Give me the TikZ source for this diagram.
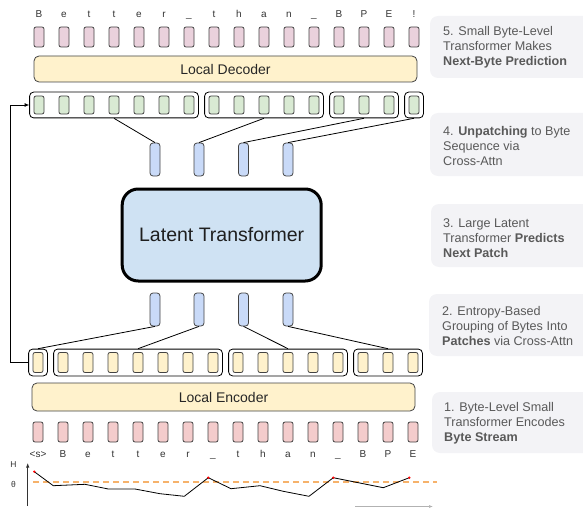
\documentclass[tikz,border=0pt]{standalone}
\usepackage{fontspec}
\setmainfont{Liberation Sans}
\usetikzlibrary{fit,arrows.meta}
\definecolor{pinkT}{HTML}{EAD1DC}
\definecolor{pinkB}{HTML}{F4CCCC}
\definecolor{greenB}{HTML}{D9EAD3}
\definecolor{yellowB}{HTML}{FFF2CC}
\definecolor{blueS}{HTML}{C9DAF8}
\definecolor{blueL}{HTML}{CFE2F3}
\definecolor{edgeG}{HTML}{434343}
\definecolor{lblbg}{HTML}{F3F3F6}
\definecolor{lbltxt}{HTML}{595959}
\definecolor{orangeD}{HTML}{F6B26B}
\begin{document}
\begin{tikzpicture}[x=1pt,y=-1pt,
  bytebox/.style={rectangle, rounded corners=2pt, draw=edgeG, line width=0.8pt,
    minimum width=10pt, minimum height=19pt, inner sep=0pt},
  grp/.style={rectangle, rounded corners=4pt, draw=black, line width=0.8pt,
    inner xsep=4pt, inner ysep=3.5pt},
  lat/.style={rectangle, rounded corners=3pt, draw=edgeG, line width=0.8pt,
    minimum width=10pt, minimum height=33pt, inner sep=0pt, fill=blueS},
  wide/.style={rectangle, rounded corners=5pt, draw=edgeG, line width=0.8pt,
    fill=yellowB, minimum width=383pt, inner sep=0pt,
    font=\fontsize{14}{16}\selectfont, text=black!85},
  letter/.style={anchor=base, inner sep=0pt, font=\fontsize{10}{12}\selectfont, text=black!80},
  lbl/.style={anchor=west, inner sep=0pt, align=left,
    font=\fontsize{12.6}{15}\selectfont, text=lbltxt},
  lblbox/.style={fill=lblbg, rounded corners=8pt},
  conn/.style={draw=black, line width=0.8pt}
]
\useasboundingbox (0,0) rectangle (583,508);

% right-side label boxes
\begin{scope}
\clip (0,0) rectangle (583,508);
\path[lblbox] (430,16) rectangle (600,78);
\path[lblbox] (430,113) rectangle (600,176);
\path[lblbox] (431,204) rectangle (600,267);
\path[lblbox] (429,294) rectangle (600,356);
\path[lblbox] (432,392) rectangle (600,453);
\end{scope}
\node[lbl] (l5) at (443,47) {5. Small Byte-Level\\Transformer Makes\\\textbf{Next-Byte Prediction}};
\node[lbl] (l4) at (443,146) {4. \textbf{Unpatching} to Byte\\Sequence via\\Cross-Attn};
\node[lbl] (l3) at (443,238) {3. Large Latent\\Transformer \textbf{Predicts}\\\textbf{Next Patch}};
\node[lbl] (l2) at (442,326) {2. Entropy-Based\\Grouping of Bytes Into\\\textbf{Patches} via Cross-Attn};
\node[lbl] (l1) at (444,423) {1. Byte-Level Small\\Transformer Encodes\\\textbf{Byte Stream}};

% top letters and pink boxes
\foreach \c [count=\i from 0] in {B,e,t,t,e,r,\_,t,h,a,n,\_,B,P,E,!} {
  \node[letter] (lt\i) at (39+25*\i,17.5) {\c};
  \node[bytebox, fill=pinkT, minimum height=20pt] (pt\i) at (39+25*\i,37) {};
}
% local decoder
\node[wide, minimum height=26pt] (dec) at (225.5,69) {Local Decoder};

% green boxes
\foreach \i in {0,...,15} {
  \node[bytebox, fill=greenB, minimum height=18pt] (g\i) at (39+25*\i,105) {};
}
\node[grp, fit=(g0)(g6)] (gg0) {};
\node[grp, fit=(g7)(g11)] (gg1) {};
\node[grp, fit=(g12)(g14)] (gg2) {};
\node[grp, fit=(g15)] (gg3) {};

% top blue boxes
\node[lat] (bt1) at (155,159.5) {};
\node[lat] (bt2) at (199,159.5) {};
\node[lat] (bt3) at (243.5,159.5) {};
\node[lat] (bt4) at (288,159.5) {};
\draw[conn] (gg0.south) -- (bt1.north);
\draw[conn] (gg1.south) -- (bt2.north);
\draw[conn] (gg2.south) -- (bt3.north);
\draw[conn] (gg3.south) -- (bt4.north);

% latent transformer
\node[rectangle, rounded corners=16pt, draw=black, line width=3pt, fill=blueL,
  minimum width=199pt, minimum height=92pt, font=\fontsize{19.5}{22}\selectfont,
  text=black!88] (latent) at (221.7,235) {Latent Transformer};

% bottom blue boxes
\node[lat] (bb1) at (155,309.5) {};
\node[lat] (bb2) at (199,309.5) {};
\node[lat] (bb3) at (243.5,309.5) {};
\node[lat] (bb4) at (288,309.5) {};

% yellow boxes
\foreach \i in {0,...,15} {
  \node[bytebox, fill=yellowB, minimum height=20pt] (y\i) at (38+25*\i,362.5) {};
}
\node[grp, inner ysep=3pt, fit=(y0)] (yg0) {};
\node[grp, inner ysep=3pt, fit=(y1)(y7)] (yg1) {};
\node[grp, inner ysep=3pt, fit=(y8)(y12)] (yg2) {};
\node[grp, inner ysep=3pt, fit=(y13)(y15)] (yg3) {};
\draw[conn] (bb1.south) -- (yg0.north);
\draw[conn] (bb2.south) -- (yg1.north);
\draw[conn] (bb3.south) -- (yg2.north);
\draw[conn] (bb4.south) -- (yg3.north);

% feedback arrow
\coordinate (fbx) at (10,0);
\draw[conn, -{Latex[length=4.5pt,width=4pt]}] (yg0.west) -- (yg0.west -| fbx) |- (gg0.west);

% local encoder
\node[wide, minimum height=28pt] (enc) at (223.5,397) {Local Encoder};

% bottom pink boxes and letters
\foreach \c [count=\i from 0] in {\textless s\textgreater,B,e,t,t,e,r,\_,t,h,a,n,\_,B,P,E} {
  \node[bytebox, fill=pinkB, minimum height=20pt] (pb\i) at (38+25*\i,432) {};
  \node[letter] (lb\i) at (38+25*\i,457) {\c};
}

% entropy plot
\node[inner sep=0pt, font=\fontsize{8.5}{10}\selectfont, text=black!80] (hlab) at (13.5,465) {H};
\node[inner sep=0pt, font=\fontsize{8.5}{10}\selectfont, text=black!80] (thlab) at (13.5,484) {θ};
\coordinate (ya0) at (27.7,506);
\coordinate (ya1) at (27.7,463);
\draw[line width=0.8pt, black!80, -{Latex[length=4.5pt,width=3.5pt]}] (ya0) -- (ya1);
\coordinate (xa0) at (355,506.5);
\coordinate (xa1) at (433,506.5);
\draw[line width=0.6pt, black!30, -{Latex[length=4pt,width=3pt]}] (xa0) -- (xa1);
\draw[orangeD, line width=1.6pt, dash pattern=on 6pt off 4pt] (33,482) -- (437,482);
\draw[black, line width=0.8pt] plot coordinates {(34.3,471.7) (53.3,485.7) (85,484.3) (108.3,489) (135,489)
  (160,493.7) (184.3,496.3) (208.3,477.7) (231,488.7) (260,485.7) (283.3,491.3) (309,496.3)
  (333.3,477.7) (358.3,482.7) (383.3,487.7) (409.3,477.7)};
\foreach \p in {(34.3,471.7),(208.3,477.7),(333.3,477.7),(409.3,477.7)} {
  \fill[red] \p circle (1.3pt);
}
\end{tikzpicture}
\end{document}
